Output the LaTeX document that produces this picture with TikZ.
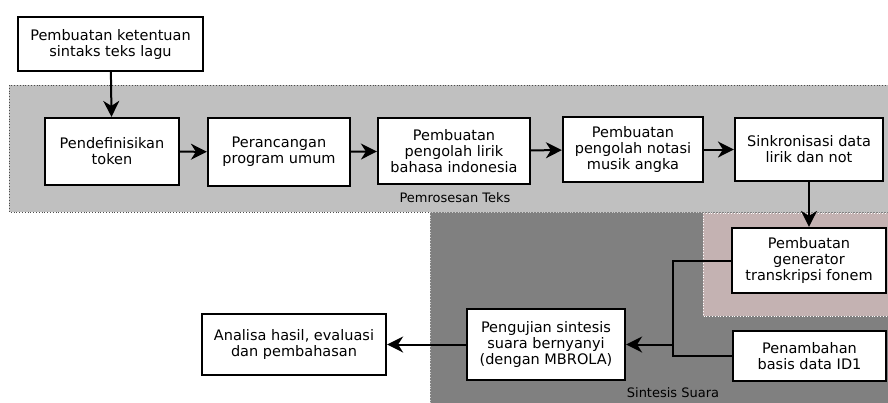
\documentclass[tikz,border=0pt]{standalone}
\usepackage{fontspec}
\setmainfont{DejaVu Sans}
\usepackage{xcolor}
\usepackage{tikz}
\usetikzlibrary{arrows.meta}
\definecolor{abuterang}{RGB}{192,192,192}
\definecolor{abugelap}{RGB}{128,128,128}
\definecolor{merahabu}{RGB}{196,178,178}
\tikzset{>={Stealth[length=16pt,width=16pt,inset=5pt]}}
\tikzstyle{blok} = [rectangle, draw=black, line width=2.2pt, fill=white, align=center, inner sep=2pt, font=\fontsize{14.5}{16}\selectfont]
\tikzstyle{panah} = [->, line width=2pt]
\tikzstyle{judul} = [draw=none, inner sep=0, text=black, font=\fontsize{13}{15}\selectfont]

\begin{document}
\begin{tikzpicture}[x=1pt, y=-1pt]
\useasboundingbox (0,0) rectangle (888,402);
% daerah latar
\begin{scope}
\clip (0,0) rectangle (888,402);
\draw [fill=abuterang, draw=black!70, dotted, line width=0.8pt] (9,85) rectangle (900,212);
\draw [fill=abugelap, draw=white!80!black, dotted, line width=0.8pt] (430,212) rectangle (900,410);
\draw [fill=merahabu, draw=white, dotted, line width=0.8pt] (703,213) rectangle (900,316);
\end{scope}
\node [judul] (T) at (455,198) {Pemrosesan Teks};
\node [judul] (S) at (673,393) {Sintesis Suara};
% blok
\node [blok, minimum width=185pt, minimum height=54pt] (A) at (110.5,44) {Pembuatan ketentuan\\sintaks teks lagu};
\node [blok, minimum width=134pt, minimum height=67pt] (B1) at (112,151.5) {Pendefinisikan\\token};
\node [blok, minimum width=142pt, minimum height=68pt] (B2) at (279,152) {Perancangan\\program umum};
\node [blok, minimum width=152pt, minimum height=66pt] (B3) at (454,151) {Pembuatan\\pengolah lirik\\bahasa indonesia};
\node [blok, minimum width=140pt, minimum height=65pt] (B4) at (633,149.5) {Pembuatan\\pengolah notasi\\musik angka};
\node [blok, minimum width=148pt, minimum height=63pt] (B5) at (809,149.5) {Sinkronisasi data\\lirik dan not};
\node [blok, minimum width=154pt, minimum height=65pt] (B6) at (809,260.5) {Pembuatan\\generator\\transkripsi fonem};
\node [blok, minimum width=153pt, minimum height=50pt] (B7) at (809.5,356) {Penambahan\\basis data ID1};
\node [blok, minimum width=158pt, minimum height=71pt] (B8) at (546,344.5) {Pengujian sintesis\\suara bernyanyi\\(dengan MBROLA)};
\node [blok, minimum width=184pt, minimum height=61pt] (B9) at (294,344.5) {Analisa hasil, evaluasi\\dan pembahasan};
\coordinate (J) at (673,344.5);
% panah
\draw [panah] (A) to (B1);
\draw [panah] (B1) to (B2);
\draw [panah] (B2) to (B3);
\draw [panah] (B3) to (B4);
\draw [panah] (B4) to (B5);
\draw [panah] (B5) to (B6);
\draw [line width=2pt] (B6.west) -| (J) |- (B7.west);
\draw [panah] (J) to (B8);
\draw [panah] (B8) to (B9);
\end{tikzpicture}
\end{document}
